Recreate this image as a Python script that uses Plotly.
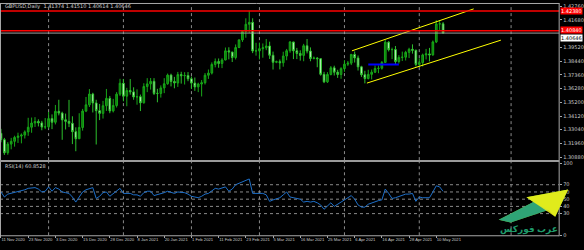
import plotly.graph_objects as go

# ---------------- data ----------------
bars = list(range(131))
opens = [1.3276,1.3226,1.3123,1.3191,1.3213,1.3244,1.3254,1.3262,1.3287,1.3324,1.3357,1.3369,1.3358,1.3325,1.3327,1.3392,1.3363,1.3449,1.3435,1.3382,
         1.3370,1.3355,1.3289,1.3233,1.3322,1.3451,1.3500,1.3585,1.3515,1.3454,1.3433,1.3493,1.3551,1.3452,1.3495,1.3584,1.3670,1.3568,1.3613,1.3602,
         1.3562,1.3564,1.3516,1.3644,1.3665,1.3685,1.3590,1.3590,1.3633,1.3666,1.3734,1.3684,1.3672,1.3738,1.3729,1.3731,1.3705,1.3671,1.3641,1.3664,
         1.3674,1.3733,1.3750,1.3818,1.3841,1.3826,1.3853,1.3925,1.3916,1.3872,1.3951,1.4011,1.4077,1.4134,1.4149,1.3924,1.3925,1.3942,1.3949,1.3963,
         1.3890,1.3835,1.3840,1.3831,1.3884,1.3926,1.3995,1.3925,1.3904,1.3889,1.3965,1.3923,1.3865,1.3868,1.3863,1.3740,1.3681,1.3739,1.3791,1.3757,
         1.3739,1.3785,1.3820,1.3828,1.3897,1.3869,1.3799,1.3737,1.3707,1.3740,1.3757,1.3786,1.3788,1.3834,1.3993,1.3934,1.3935,1.3841,1.3873,1.3875,
         1.3913,1.3937,1.3929,1.3818,1.3832,1.3893,1.3901,1.3893,1.3995,1.4137,1.41374]
highs = [1.3311,1.3240,1.3207,1.3240,1.3257,1.3281,1.3275,1.3299,1.3398,1.3400,1.3403,1.3386,1.3374,1.3396,1.3444,1.3425,1.3499,1.3540,1.3446,1.3431,
         1.3539,1.3410,1.3323,1.3434,1.3468,1.3562,1.3624,1.3595,1.3540,1.3507,1.3531,1.3625,1.3570,1.3547,1.3600,1.3705,1.3704,1.3634,1.3703,1.3638,
         1.3622,1.3581,1.3670,1.3710,1.3711,1.3710,1.3626,1.3653,1.3710,1.3746,1.3745,1.3720,1.3759,1.3760,1.3757,1.3758,1.3723,1.3715,1.3674,1.3695,
         1.3750,1.3778,1.3834,1.3865,1.3865,1.3867,1.3951,1.3953,1.3914,1.3975,1.4016,1.4080,1.4181,1.4241,1.4181,1.3988,1.3990,1.3983,1.4018,1.3997,
         1.3919,1.3848,1.3857,1.3918,1.3940,1.4001,1.3990,1.3948,1.3929,1.3980,1.4018,1.3952,1.3880,1.3875,1.3866,1.3760,1.3757,1.3805,1.3808,1.3776,
         1.3796,1.3852,1.3845,1.3900,1.3920,1.3888,1.3807,1.3768,1.3776,1.3778,1.3810,1.3810,1.3845,1.4009,1.4001,1.3950,1.3963,1.3891,1.3919,1.3925,
         1.3949,1.3976,1.3935,1.3866,1.3903,1.3940,1.3948,1.4006,1.4166,1.4166,1.41510]
lows = [1.3205,1.3106,1.3107,1.3150,1.3171,1.3200,1.3197,1.3235,1.3256,1.3280,1.3326,1.3330,1.3300,1.3309,1.3314,1.3309,1.3346,1.3417,1.3225,1.3306,
        1.3325,1.3191,1.3135,1.3290,1.3297,1.3443,1.3483,1.3440,1.3188,1.3380,1.3392,1.3452,1.3434,1.3440,1.3479,1.3570,1.3528,1.3489,1.3580,1.3540,
        1.3501,1.3451,1.3510,1.3600,1.3620,1.3577,1.3520,1.3557,1.3592,1.3658,1.3645,1.3630,1.3641,1.3667,1.3660,1.3686,1.3625,1.3610,1.3600,1.3566,
        1.3660,1.3704,1.3739,1.3795,1.3792,1.3789,1.3850,1.3858,1.3837,1.3857,1.3946,1.3995,1.4028,1.4066,1.3907,1.3887,1.3857,1.3871,1.3930,1.3861,
        1.3778,1.3828,1.3779,1.3800,1.3851,1.3910,1.3860,1.3860,1.3848,1.3843,1.3905,1.3843,1.3858,1.3796,1.3730,1.3671,1.3672,1.3732,1.3731,1.3712,
        1.3705,1.3760,1.3806,1.3813,1.3833,1.3770,1.3720,1.3669,1.3700,1.3700,1.3750,1.3749,1.3777,1.3838,1.3920,1.3860,1.3820,1.3825,1.3845,1.3849,
        1.3868,1.3903,1.3802,1.3798,1.3802,1.3857,1.3842,1.3886,1.3986,1.4090,1.40614]
closes = opens[1:] + [1.40646]

rsi = [60,53,57,58,59,61,62,63,65,66,66,64,60,61,67,61,66,64,60,59,
       58,53,46,53,60,63,65,66,51,54,59,60,54,58,61,65,58,58,58,56,
       56,54,59,61,61,55,56,58,59,61,59,58,60,60,59,57,54,53,52,54,
       57,58,61,65,64,66,67,61,64,70,72,74,76,78,58,58,57,58,56,47,
       49,50,52,56,60,53,52,51,50,46,47,46,47,45,42,36,41,45,40,43,
       47,49,52,55,50,42,39,39,43,45,47,48,49,64,58,51,52,54,55,57,
       57,58,47,53,52,52,52,60,68.5,67,60.85]

date_bars = [0,8,16,24,32,40,48,56,64,72,80,88,96,104,112,120,128]
date_labels = ["11 Nov 2020","23 Nov 2020","3 Dec 2020","15 Dec 2020","28 Dec 2020","8 Jan 2021",
               "20 Jan 2021","1 Feb 2021","11 Feb 2021","23 Feb 2021","5 Mar 2021","16 Mar 2021",
               "25 Mar 2021","6 Apr 2021","16 Apr 2021","28 Apr 2021","10 May 2021"]
grid_bars = [14,36,56,76,101,123,150]

price_ticks = [1.42760,1.41680,1.39520,1.38440,1.37360,1.36280,1.35200,1.34120,1.33040,1.31960,1.30880]
red_levels = [1.42380,1.40840]
bid_price = 1.40646
rsi_ticks = [100,70,60,50,40,30,0]
rsi_grid = [70,60,50,40,30]

upper_chan_bars = [103.2,139.0]
upper_chan_px = [1.3925,1.4255]
lower_chan_bars = [107.6,147.0]
lower_chan_px = [1.3671,1.4009]
blue_bars = [108,117]
blue_px = [1.3818,1.3818]

header = "GBPUSD,Daily  1.41374 1.41510 1.40614 1.40646"
rsi_title = "RSI(14) 60.8528"
logo_text = "عرب فوركس"

# ---------------- figure ----------------
W, H = 584, 250
def py(p):
    return 1 - p / H

X_RANGE = [-0.2915, 164.14]
XD = [0, 564 / W]
fig = go.Figure()

fig.add_trace(go.Candlestick(
    x=bars, open=opens, high=highs, low=lows, close=closes,
    increasing=dict(line=dict(color="#18a818", width=1), fillcolor="#0b7a0b"),
    decreasing=dict(line=dict(color="#2cc02c", width=1), fillcolor="#e6ffe6"),
    whiskerwidth=0, xaxis="x", yaxis="y", showlegend=False, hoverinfo="skip"))

fig.add_trace(go.Scatter(x=bars, y=rsi, mode="lines", line=dict(color="#1e6fc8", width=1),
                         xaxis="x2", yaxis="y2", showlegend=False, hoverinfo="skip"))

fig.add_trace(go.Scatter(x=upper_chan_bars, y=upper_chan_px, mode="lines",
                         line=dict(color="#ffff00", width=1), xaxis="x", yaxis="y", showlegend=False))
fig.add_trace(go.Scatter(x=lower_chan_bars, y=lower_chan_px, mode="lines",
                         line=dict(color="#ffff00", width=1), xaxis="x", yaxis="y", showlegend=False))
fig.add_trace(go.Scatter(x=blue_bars, y=blue_px, mode="lines",
                         line=dict(color="#0000ff", width=2), xaxis="x", yaxis="y", showlegend=False))

shapes = []
for g in grid_bars:
    shapes.append(dict(type="line", xref="x", yref="paper", x0=g, x1=g, y0=py(161), y1=py(1),
                       line=dict(color="#8a8a8a", width=1, dash="dot"), layer="below"))
    shapes.append(dict(type="line", xref="x2", yref="paper", x0=g, x1=g, y0=py(238), y1=py(162),
                       line=dict(color="#8a8a8a", width=1, dash="dot"), layer="below"))
for r in rsi_grid:
    shapes.append(dict(type="line", xref="paper", yref="y2", x0=0, x1=XD[1], y0=r, y1=r,
                       line=dict(color="#8a8a8a", width=1, dash="dot"), layer="below"))
for lv in red_levels:
    shapes.append(dict(type="line", xref="paper", yref="y", x0=0, x1=XD[1], y0=lv, y1=lv,
                       line=dict(color="#ff0000", width=1.5)))
shapes.append(dict(type="line", xref="paper", yref="y", x0=0, x1=XD[1], y0=bid_price, y1=bid_price,
                   line=dict(color="#a0a0a0", width=1)))
frame_col = "#a8a8a8"
shapes += [
    dict(type="line", xref="paper", yref="paper", x0=0.5/W, x1=0.5/W, y0=py(239), y1=1, line=dict(color=frame_col, width=1)),
    dict(type="line", xref="paper", yref="paper", x0=0, x1=XD[1], y0=py(0.5), y1=py(0.5), line=dict(color=frame_col, width=1)),
    dict(type="line", xref="paper", yref="paper", x0=XD[1], x1=XD[1], y0=py(239), y1=1, line=dict(color=frame_col, width=1)),
    dict(type="line", xref="paper", yref="paper", x0=0, x1=XD[1], y0=py(238.5), y1=py(238.5), line=dict(color=frame_col, width=1)),
    dict(type="line", xref="paper", yref="paper", x0=0, x1=XD[1], y0=py(161.8), y1=py(161.8), line=dict(color="#9a9a9a", width=2)),
]
def P(x, y):
    return f"{x/W:.4f},{1-y/H:.4f}"
shapes.append(dict(type="path", xref="paper", yref="paper",
                   path=f"M{P(503,222)} L{P(538,204)} L{P(531,199)} L{P(573,191)} L{P(560,219)} L{P(553,212)} L{P(515,225)} Z",
                   fillcolor="#8fd21e", line=dict(width=0)))
shapes.append(dict(type="path", xref="paper", yref="paper",
                   path=f"M{P(503,222)} L{P(538,204)} L{P(553,212)} L{P(515,225)} Z",
                   fillcolor="#1e9c86", line=dict(width=0), opacity=0.85))
shapes.append(dict(type="path", xref="paper", yref="paper",
                   path=f"M{P(531,199)} L{P(573,191)} L{P(560,219)} Z",
                   fillcolor="#eef01c", line=dict(width=0), opacity=0.85))

annotations = []
annotations.append(dict(text=header, xref="paper", yref="paper", x=3/W, y=py(4), xanchor="left", yanchor="middle",
                        showarrow=False, font=dict(size=5, color="#d0d0d0", family="DejaVu Sans")))
annotations.append(dict(text=rsi_title, xref="paper", yref="paper", x=3/W, y=py(166.5), xanchor="left", yanchor="middle",
                        showarrow=False, font=dict(size=5, color="#d0d0d0", family="DejaVu Sans")))
annotations.append(dict(text=f"{red_levels[0]:.5f}", xref="paper", yref="y", x=565/W, y=red_levels[0], xanchor="left",
                        yanchor="middle", showarrow=False, bgcolor="#ff0000", borderpad=0,
                        font=dict(size=5, color="#ffffff", family="DejaVu Sans")))
annotations.append(dict(text=f"{red_levels[1]:.5f}", xref="paper", yref="y", x=565/W, y=red_levels[1], xanchor="left",
                        yanchor="bottom", yshift=-3, showarrow=False, bgcolor="#ff0000", borderpad=0,
                        font=dict(size=5, color="#ffffff", family="DejaVu Sans")))
annotations.append(dict(text=f"{bid_price:.5f}", xref="paper", yref="y", x=565/W, y=bid_price, xanchor="left",
                        yanchor="top", yshift=-0.5, showarrow=False, bgcolor="#ffffff", borderpad=0,
                        font=dict(size=5, color="#000000", family="DejaVu Sans")))
annotations.append(dict(text=f"<b>{logo_text}</b>", xref="paper", yref="paper", x=534/W, y=py(231), xanchor="center",
                        yanchor="middle", showarrow=False, font=dict(size=9, color="#1f9a6a", family="Noto Sans, DejaVu Sans")))

axis_font = dict(size=5, color="#c8c8c8", family="DejaVu Sans")
date_font = dict(size=4.2, color="#c8c8c8", family="Liberation Sans")
fig.update_layout(
    width=W, height=H, margin=dict(l=0, r=0, t=0, b=0),
    paper_bgcolor="#000000", plot_bgcolor="#000000",
    xaxis=dict(domain=XD, range=X_RANGE, showgrid=False, zeroline=False, showticklabels=False,
               rangeslider=dict(visible=False), anchor="y"),
    yaxis=dict(domain=[py(161), py(1)], range=[1.30649, 1.42937], side="right", anchor="x",
               tickvals=price_ticks, ticktext=[f"{v:.5f}" for v in price_ticks],
               ticks="outside", ticklen=2, tickcolor="#a8a8a8", tickfont=axis_font,
               showgrid=False, zeroline=False),
    xaxis2=dict(domain=XD, range=X_RANGE, showgrid=False, zeroline=False, anchor="y2",
                tickvals=date_bars, ticktext=date_labels, ticks="outside", ticklen=2, tickcolor="#a8a8a8",
                ticklabelposition="outside right", tickangle=0, tickfont=date_font),
    yaxis2=dict(domain=[py(238), py(164)], range=[0, 100], side="right", anchor="x2",
                tickvals=rsi_ticks, ticktext=[str(v) for v in rsi_ticks],
                ticks="outside", ticklen=2, tickcolor="#a8a8a8", tickfont=axis_font,
                showgrid=False, zeroline=False),
    shapes=shapes, annotations=annotations,
)
fig.write_html("out.html")
